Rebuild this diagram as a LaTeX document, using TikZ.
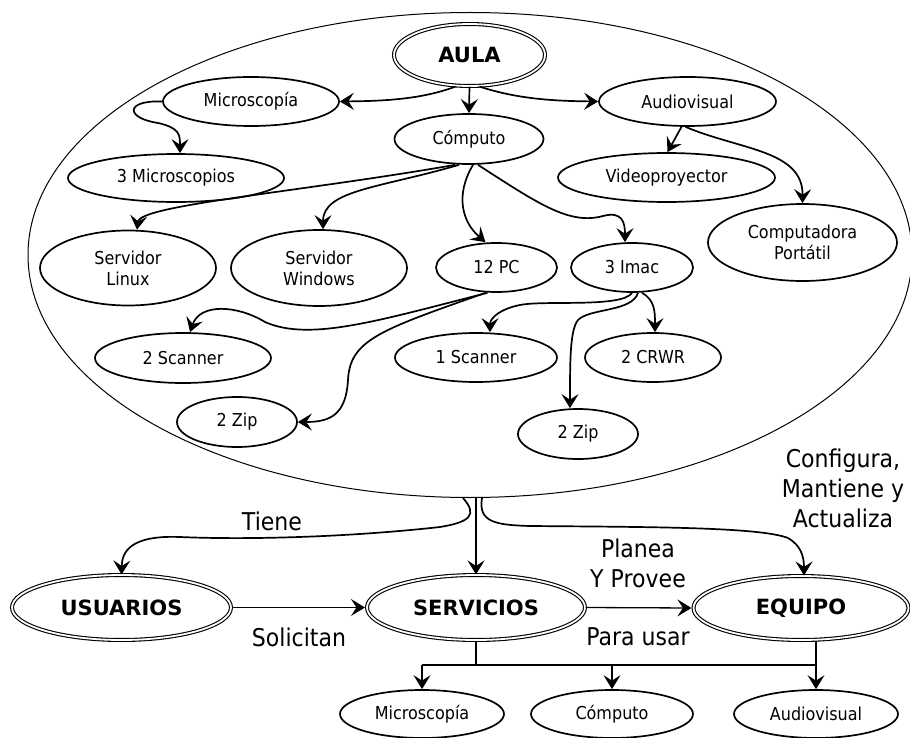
\documentclass[tikz,border=0pt]{standalone}
\usepackage{fontspec}
\setmainfont{DejaVu Sans}[FakeStretch=0.9]
\newfontfamily\headfont{DejaVu Sans}
\usetikzlibrary{shapes.geometric,arrows.meta}

\tikzset{
  box/.style={ellipse, draw, line width=1.7pt, inner sep=0pt,
    font=\fontsize{17.8}{21}\selectfont, align=center},
  mainbox/.style={ellipse, draw, double, double distance=1.8pt, line width=1.1pt,
    inner sep=0pt, font=\headfont\fontsize{21}{24}\selectfont\bfseries},
  hall/.style={ellipse, draw, line width=1pt, inner sep=0pt},
  lbl/.style={font=\fontsize{24.5}{30}\selectfont, align=center, inner sep=0pt},
  arr/.style={line width=1.7pt, -{Stealth[length=14pt,width=17pt,inset=5.5pt]}},
  thinarr/.style={line width=1.3pt, -{Stealth[length=14pt,width=17pt,inset=5.5pt]}},
  bar/.style={line width=1.3pt}
}

\begin{document}
\begin{tikzpicture}[x=1pt,y=-1pt]
\useasboundingbox (0,0) rectangle (910,738);

% the classroom and everything in it
\node[hall, minimum width=884pt, minimum height=485pt] (big) at (470,255) {};
\node[mainbox, minimum width=151pt, minimum height=62pt] (aula) at (469.5,55) {AULA};

\node[box, minimum width=176pt, minimum height=49pt] (micro) at (251,101.5) {Microscopía};
\node[box, minimum width=149pt, minimum height=50pt] (comp) at (469,139) {Cómputo};
\node[box, minimum width=177pt, minimum height=49pt] (audio) at (687.5,101.5) {Audiovisual};

\node[box, minimum width=216pt, minimum height=48pt] (mic3) at (176,178) {3 Microscopios};
\node[box, minimum width=217pt, minimum height=49pt] (video) at (666.5,177.5) {Videoproyector};
\node[box, minimum width=189pt, minimum height=77pt] (laptop) at (802.5,242.5) {Computadora\\Portátil};

\node[box, minimum width=176pt, minimum height=75pt] (linux) at (128,268) {Servidor\\Linux};
\node[box, minimum width=176pt, minimum height=76pt] (windows) at (319,268) {Servidor\\Windows};
\node[box, minimum width=121pt, minimum height=49pt] (pc) at (496.5,267.5) {12 PC};
\node[box, minimum width=122pt, minimum height=49pt] (imac) at (632,267.5) {3 Imac};

\node[box, minimum width=176pt, minimum height=50pt] (scan2) at (183,358) {2 Scanner};
\node[box, minimum width=162pt, minimum height=49pt] (scan1) at (476,357.5) {1 Scanner};
\node[box, minimum width=136pt, minimum height=49pt] (crwr) at (653,357.5) {2 CRWR};
\node[box, minimum width=120pt, minimum height=50pt] (zipa) at (237,422) {2 Zip};
\node[box, minimum width=120pt, minimum height=50pt] (zipb) at (578,434) {2 Zip};

% lower row
\node[mainbox, minimum width=219pt, minimum height=65pt] (usr) at (121.5,607.5) {USUARIOS};
\node[mainbox, minimum width=218pt, minimum height=65pt] (serv) at (476,607.5) {SERVICIOS};
\node[mainbox, minimum width=215pt, minimum height=64pt] (equipo) at (801,608) {EQUIPO};

\node[box, minimum width=164pt, minimum height=48pt] (bmicro) at (422,714) {Microscopía};
\node[box, minimum width=162pt, minimum height=48pt] (bcomp) at (612,714) {Cómputo};
\node[box, minimum width=164pt, minimum height=48pt] (baudio) at (816,714) {Audiovisual};

% relation labels
\node[lbl] (tiene) at (272,521) {Tiene};
\node[lbl] (solicitan) at (299,637) {Solicitan};
\node[lbl] (planea) at (638,563) {Planea\\Y Provee};
\node[lbl] (parausar) at (638,637) {Para usar};
\node[lbl] (configura) at (843,488) {Configura,\\Mantiene y\\Actualiza};

% inside the classroom
\draw[arr] ([xshift=-14]aula.south) .. controls (420,100) and (380,101) .. (micro.east);
\draw[arr] (aula.south) -- (comp.north);
\draw[arr] ([xshift=10]aula.south) .. controls (520,100) and (560,101) .. (audio.west);

\draw[arr] (micro.west) .. controls (125,100) and (125,118) .. (158,123)
  .. controls (180,128) and (180,135) .. ([xshift=4]mic3.north);

\draw[arr] ([xshift=-6]audio.south) -- ([xshift=1]video.north);
\draw[arr] ([xshift=-2]audio.south) .. controls (740,150) and (803,150) .. (laptop.north);

\draw[arr] ([xshift=-14]comp.south) .. controls (300,192) and (140,205) .. ([xshift=9]linux.north);
\draw[arr] ([xshift=-10]comp.south) .. controls (380,188) and (323,190) .. ([xshift=4]windows.north);
\draw[arr] ([xshift=4]comp.south) .. controls (455,195) and (462,222) .. ([xshift=-11]pc.north);
\draw[arr] ([xshift=9]comp.south) .. controls (540,205) and (570,225) .. (603,216)
  .. controls (622,211) and (625,222) .. ([xshift=-7]imac.north);

\draw[arr] ([xshift=-9]pc.south) .. controls (380,320) and (310,342) .. (265,322)
  .. controls (237,305) and (200,303) .. ([xshift=7]scan2.north);
\draw[arr] ([xshift=-11]pc.south) .. controls (380,330) and (350,340) .. (348,380)
  .. controls (346,415) and (330,422) .. (zipa.east);

\draw[arr] (imac.south) .. controls (622,308) and (545,300) .. (520,305)
  .. controls (500,309) and (490,318) .. ([xshift=14]scan1.north);
\draw[arr] ([xshift=6]imac.south) .. controls (632,312) and (590,308) .. (578,320)
  .. controls (570,330) and (570,360) .. ([xshift=-8]zipb.north);
\draw[arr] ([xshift=10]imac.south) .. controls (655,300) and (655,312) .. ([xshift=2]crwr.north);

% from the classroom to the lower row
\draw[arr] ([xshift=-7]big.south) .. controls (478,515) and (470,522) .. (440,527)
  .. controls (350,537) and (250,540) .. (180,537)
  .. controls (130,535) and (122,552) .. (usr.north);
\draw[thinarr] ([xshift=6]big.south) -- (serv.north);
\draw[arr] ([xshift=12]big.south) .. controls (478,522) and (495,525) .. (530,526)
  .. controls (650,527) and (760,527) .. (788,538)
  .. controls (800,545) and (804,555) .. ([xshift=3]equipo.north);

\draw[thinarr, shorten >=1.5pt] (usr.east) -- (serv.west);
\draw[thinarr, shorten >=1.5pt] (serv.east) -- (equipo.west);

% services branching to the three areas
\coordinate (barL) at (422,665);
\coordinate (barR) at (816,665);
\draw[bar] (serv.south) -- (serv.south |- barL);
\draw[bar] (barL) -- (barR);
\draw[thinarr] (barL) -- (bmicro.north);
\draw[thinarr] (bcomp.north |- barL) -- (bcomp.north);
\draw[thinarr] (equipo.south -| barR) -- (baudio.north);
\end{tikzpicture}
\end{document}
